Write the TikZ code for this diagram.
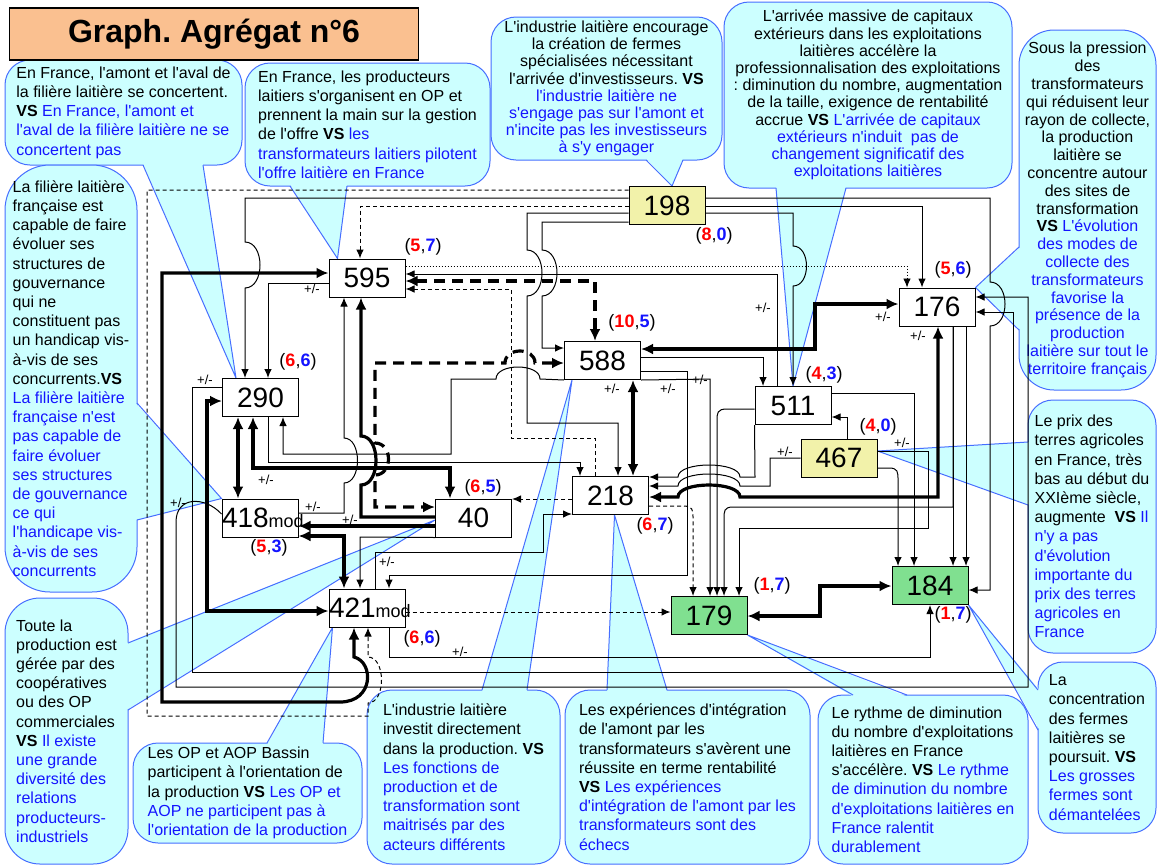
\documentclass[tikz,border=0pt]{standalone}
\usepackage{fontspec}
\setmainfont{Liberation Sans}[Ligatures=TeXOff]
\usetikzlibrary{arrows.meta, backgrounds}
\frenchspacing

\definecolor{bulle}{RGB}{204,255,255}
\definecolor{bord}{RGB}{70,110,255}
\definecolor{jaune}{RGB}{242,242,170}
\definecolor{vert}{RGB}{128,224,144}
\definecolor{saumon}{RGB}{250,192,144}
\definecolor{bleutexte}{RGB}{20,20,255}

\newcommand{\bleu}[1]{\textcolor{bleutexte}{#1}}
\newcommand{\rbpair}[2]{(\textcolor{red}{\textbf{#1}},\textcolor{bleutexte}{\textbf{#2}})}

\begin{document}
\begin{tikzpicture}[x=1pt, y=-1pt,
  box/.style={draw, line width=1pt, fill=white, minimum width=76pt, minimum height=38pt, inner sep=0pt, font=\fontsize{28}{28}\selectfont},
  bulleg/.style={draw=bord, line width=1pt, fill=bulle, rounded corners=25pt, inner sep=0pt, align=left, font=\fontsize{16}{19.2}\selectfont},
  bullec/.style={bulleg, align=center, font=\fontsize{16}{17.2}\selectfont},
  pointe/.style={draw=bord, line width=1pt},
  rb/.style={inner sep=0pt, font=\fontsize{18}{18}\selectfont},
  pm/.style={inner sep=0pt, font=\fontsize{13}{13}\selectfont},
  ln/.style={line width=1pt},
  tk/.style={line width=3.2pt},
  dsh/.style={line width=1pt, dash pattern=on 4pt off 3pt},
  tkd/.style={line width=3.2pt, dash pattern=on 11pt off 7pt},
  pts/.style={line width=0.9pt, dash pattern=on 1.5pt off 1.5pt},
  ar/.style={-{Latex[length=9pt,width=7.5pt]}},
  tar/.style={-{Latex[length=12pt,width=11pt]}},
  tarr/.style={{Latex[length=12pt,width=11pt]}-{Latex[length=12pt,width=11pt]}}]

\useasboundingbox (0,0) rectangle (1158,865);

% titre
\node[draw, line width=1.2pt, fill=saumon, minimum width=409pt, minimum height=52pt, font=\fontsize{32}{32}\selectfont\bfseries] (titre) at (214,34) {Graph. Agrégat n°6};

% variables
\node[box] (n595) at (367,278) {595};
\node[box] (n290) at (260.5,397.5) {290};
\node[box, fill=jaune] (n198) at (667,205.5) {198};
\node[box] (n588) at (602.5,360.5) {588};
\node[box] (n176) at (937,307) {176};
\node[box] (n511) at (793,405.5) {511};
\node[box, fill=jaune] (n467) at (839,458) {467};
\node[box] (n218) at (610.5,495.5) {218};
\node[box, text width=76pt, align=left] (n418) at (260,518) {418{\fontsize{18}{18}\selectfont mod}};
\node[box] (n40) at (473.5,518) {40};
\node[box, text width=76pt, align=left] (n421) at (367,608) {421{\fontsize{18}{18}\selectfont mod}};
\node[box, fill=vert] (n179) at (709,615.5) {179};
\node[box, fill=vert] (n184) at (930,585.5) {184};

% (r,b)
\node[rb] (r595) at (423,247) {\rbpair{5}{7}};
\node[rb] (r290) at (298,362) {\rbpair{6}{6}};
\node[rb] (r588) at (632,323) {\rbpair{10}{5}};
\node[rb] (r198) at (714,236) {\rbpair{8}{0}};
\node[rb] (r176) at (953,270) {\rbpair{5}{6}};
\node[rb] (r511) at (824,375) {\rbpair{4}{3}};
\node[rb] (r467) at (878,427) {\rbpair{4}{0}};
\node[rb] (r218) at (655,526) {\rbpair{6}{7}};
\node[rb] (r179) at (772,586) {\rbpair{1}{7}};
\node[rb] (r184) at (953,615) {\rbpair{1}{7}};
\node[rb] (r40) at (483,488) {\rbpair{6}{5}};
\node[rb] (r418) at (269,548) {\rbpair{5}{3}};
\node[rb] (r421) at (422,639) {\rbpair{6}{6}};

% signes
\node[pm] (p1) at (312,289) {+/-};
\node[pm] (p2) at (205,380) {+/-};
\node[pm] (p3) at (763,308) {+/-};
\node[pm] (p4) at (883,317) {+/-};
\node[pm] (p5) at (918,336) {+/-};
\node[pm] (p6) at (612,389) {+/-};
\node[pm] (p7) at (668,389) {+/-};
\node[pm] (p8) at (700,380) {+/-};
\node[pm] (p9) at (266,480) {+/-};
\node[pm] (p10) at (178,503) {+/-};
\node[pm] (p11) at (313,507) {+/-};
\node[pm] (p12) at (350,520) {+/-};
\node[pm] (p13) at (387,562) {+/-};
\node[pm] (p14) at (460,652) {+/-};
\node[pm] (p15) at (785,452) {+/-};
\node[pm] (p16) at (902,443) {+/-};

% liaisons depuis 198
\draw[ln,ar] (n198.west |- 0,198) -- (245,198) -- (245,242) .. controls (265,242) and (265,288) .. (245,288) -- (n290.north -| 245,0);
\draw[dsh,ar] (n198.west |- 0,206) -- (360,206) -- (n595.north -| 360,0);
\draw[dsh,ar] (n198.west |- 0,190) -- (147,190) -- (147,716) -- (368,716) -- (368,703) .. controls (386,703) and (386,657) .. (368,657) -- (n421.south -| 368,0);
\draw[ln,ar] (n198.west |- 0,213) -- (527,213) -- (527,250) .. controls (547,250) and (547,296) .. (527,296) -- (527,423) -- (618,423) -- (n218.north -| 618,0);
\draw[ln,ar] (n198.west |- 0,222) -- (542,222) -- (542,250) .. controls (562,250) and (562,296) .. (542,296) -- (542,348) -- (n588.west |- 0,348);
\draw[ln,ar] (n198.east |- 0,198) -- (990,198) -- (990,282) .. controls (1010,282) and (1010,326) .. (990,326) -- (990,590) -- (n184.east |- 0,590);
\draw[ln,ar] (n198.east |- 0,206) -- (922,206) -- (n176.north -| 922,0);
\draw[ln,ar] (n198.east |- 0,213) -- (793,213) -- (793,246) .. controls (811,246) and (811,286) .. (793,286) -- (n511.north -| 793,0);

% autour de 595
\draw[pts,ar] (n595.east |- 0,266) -- (907,266) -- (n176.north -| 907,0);
\draw[ln,ar] (n511.north -| 777,0) -- (777,274) -- (n595.east |- 0,274);
\draw[tkd,tarr] (n595.east |- 0,281) -- (595,281) -- (n588.north -| 595,0);
\draw[dsh,ar] (n218.north -| 595,0) -- (595,438) -- (511,438) -- (511,289) -- (n595.east |- 0,289);
\draw[ln,ar] (n595.west |- 0,283) -- (268,283) -- (n290.north -| 268,0);
\draw[tk,tarr] (n421.south -| 354,0) -- (354,657) .. controls (374,662) and (374,702) .. (340,702) -- (162,702) -- (162,273) -- (n595.west |- 0,273);
\draw[tk,tarr] (n290.west |- 0,401) -- (207,401) -- (207,611) -- (n421.west |- 0,611);
\draw[ln,ar] (n418.east |- 0,513) -- (344,513) -- (344,483) .. controls (362,483) and (362,438) .. (344,438) -- (n595.south -| 344,0);
\draw[tk,tar] (n40.west |- 0,517) -- (361,517) -- (361,485) .. controls (381,485) and (381,436) .. (361,436) -- (n595.south -| 361,0);

% autour de 290 et 418
\draw[tk,tarr] (n290.south -| 238,0) -- (n418.north -| 238,0);
\draw[tk,tarr] (n290.south -| 253,0) -- (253,468) -- (450,468) -- (n40.north -| 450,0);
\draw[ln,ar] (n290.south -| 268,0) -- (268,462) -- (580,462) -- (n218.north -| 580,0);
\draw[ln,ar] (n588.south west) -- (540,379) .. controls (540,363) and (496,363) .. (496,379) -- (451,379) -- (451,454) -- (283,454) -- (n290.south -| 283,0);
\draw[tkd,tarr] (n588.west |- 0,363) -- (535,363) .. controls (535,347) and (505,347) .. (505,363) -- (375,363) -- (375,443) .. controls (393,443) and (393,475) .. (375,475) -- (375,507) -- (n40.west |- 0,507);
\draw[ln,ar] (n290.west |- 0,387) -- (192,387) -- (192,672) -- (1013,672) -- (1013,312) -- (n176.east |- 0,312);
\draw[ln,ar] (n418.west |- 0,514) .. controls (205,496) and (176,496) .. (176,522) -- (176,687) -- (1028,687) -- (1028,297) -- (n176.east |- 0,297);
\draw[tk,tar] (n40.west |- 0,526) -- (n418.east |- 0,526);
\draw[tk,tarr] (n418.east |- 0,536) -- (344,536) -- (n421.north -| 344,0);
\draw[ln,ar] (n40.south west) -- (360,537) -- (n421.north -| 360,0);

% autour de 421
\draw[ln,ar] (n421.north -| 375,0) -- (375,552) -- (543,552) -- (543,514) -- (n218.west |- 0,514);
\draw[ln,ar] (n588.east |- 0,371) -- (687,371) -- (687,575) -- (389,575) -- (n421.north -| 389,0);
\draw[ln,ar] (n421.south -| 389,0) -- (389,657) -- (930,657) -- (n184.south -| 930,0);
\draw[dsh,ar] (n421.east |- 0,612) -- (n179.west |- 0,612);

% autour de 218
\draw[dsh,ar] (n218.west |- 0,499) -- (n40.east |- 0,499);
\draw[tk,tarr] (n588.south -| 633,0) -- (n218.north -| 633,0);
\draw[tk,tarr] (n176.south -| 938,0) -- (938,497) -- (740,497) .. controls (740,481) and (678,481) .. (678,497) -- (n218.east |- 0,497);
\draw[ln,ar] (n511.south west) -- (755,477) -- (740,477) .. controls (740,461) and (678,461) .. (678,477) -- (n218.east |- 0,477);
\draw[ln,ar] (n467.west |- 0,458) -- (770,458) -- (770,486) -- (740,486) .. controls (740,470) and (678,470) .. (678,486) -- (n218.east |- 0,486);
\draw[dsh,ar] (n218.east |- 0,506) -- (683,506) .. controls (693,506) and (693,510) .. (693,518) -- (n179.north -| 693,0);

% vers 179, 184, 176, 511
\draw[ln,ar] (n588.south east) -- (710,379) -- (n179.north -| 710,0);
\draw[ln,ar] (n588.east |- 0,357) -- (763,357) -- (n511.north -| 763,0);
\draw[tk,tarr] (n588.east |- 0,349) -- (815,349) -- (815,304) -- (n176.west |- 0,304);
\draw[ln,ar] (n511.west |- 0,409) -- (727,409) .. controls (717,409) and (717,413) .. (717,421) -- (n179.north -| 717,0);
\draw[ln,ar] (n176.south -| 953,0) -- (n184.north -| 953,0);
\draw[ln,ar] (n176.south -| 966,0) -- (n184.north -| 966,0);
\draw[ln,ar] (n176.south -| 953,0) -- (953,507) -- (733,507) .. controls (724,507) and (724,511) .. (724,519) -- (n179.north -| 724,0);
\draw[ln,ar] (n511.east |- 0,393) -- (914,393) -- (n184.north -| 914,0);
\draw[ln,ar] (n467.east |- 0,468) -- (889,468) .. controls (898,468) and (898,472) .. (898,480) -- (n184.north -| 898,0);
\draw[ln,ar] (n467.east |- 0,451) -- (928,451) -- (928,528) -- (739,528) -- (n179.north -| 739,0);
\draw[ln,ar] (n467.north -| 847,0) -- (847,417) -- (n511.east |- 0,417);
\draw[tk,tarr] (n179.east |- 0,616) -- (820,616) -- (820,586) -- (n184.west |- 0,586);

% bulles
\begin{scope}[on background layer]
\node[bulleg, minimum width=237pt, minimum height=105pt] (b1) at (123.5,112.5) {En France, l'amont et l'aval de\\la filière laitière se concertent.\\\textbf{VS} \bleu{En France, l'amont et}\\\bleu{l'aval de la filière laitière ne se}\\\bleu{concertent pas}};
\fill[bulle] (143,163.5) -- ([xshift=14pt]n290.north west) -- (203,163.5) -- cycle;
\draw[pointe] (143,165) -- ([xshift=14pt]n290.north west) -- (203,165);

\node[bulleg, minimum width=245pt, minimum height=123pt] (b2) at (367.5,124.5) {En France, les producteurs\\laitiers s'organisent en OP et\\prennent la main sur la gestion\\de l'offre \textbf{VS} \bleu{les}\\\bleu{transformateurs laitiers pilotent}\\\bleu{l'offre laitière en France}};
\fill[bulle] (290,184.5) -- ([xshift=9pt]n595.north west) -- (347,184.5) -- cycle;
\draw[pointe] (290,186) -- ([xshift=9pt]n595.north west) -- (347,186);

\node[bullec, minimum width=231pt, minimum height=143pt] (b3) at (606.5,88.5) {L'industrie laitière encourage\\la création de fermes\\spécialisées nécessitant\\l'arrivée d'investisseurs. \textbf{VS}\\\bleu{l'industrie laitière ne}\\\bleu{s'engage pas sur l'amont et}\\\bleu{n'incite pas les investisseurs}\\\bleu{à s'y engager}};
\fill[bulle] (646,158.5) -- ([xshift=5pt]n198.north) -- (683,158.5) -- cycle;
\draw[pointe] (646,160) -- ([xshift=5pt]n198.north) -- (683,160);

\node[bullec, minimum width=288pt, minimum height=186pt] (b4) at (868,95) {L'arrivée massive de capitaux\\extérieurs dans les exploitations\\laitières accélère la\\professionnalisation des exploitations\\: diminution du nombre, augmentation\\de la taille, exigence de rentabilité\\accrue \textbf{VS} \bleu{L'arrivée de capitaux}\\\bleu{extérieurs n'induit\ \ pas de}\\\bleu{changement significatif des}\\\bleu{exploitations laitières}};
\fill[bulle] (776,186.5) -- (n511.north) -- (846,186.5) -- cycle;
\draw[pointe] (776,188) -- (n511.north) -- (846,188);

\node[bullec, rounded corners=35pt, minimum width=137pt, minimum height=360pt, font=\fontsize{16}{17.8}\selectfont] (b5) at (1087.5,210) {Sous la pression\\des\\transformateurs\\qui réduisent leur\\rayon de collecte,\\la production\\laitière se\\concentre autour\\des sites de\\transformation\\\textbf{VS} \bleu{L'évolution}\\\bleu{des modes de}\\\bleu{collecte des}\\\bleu{transformateurs}\\\bleu{favorise la}\\\bleu{présence de la}\\\bleu{production}\\\bleu{laitière sur tout le}\\\bleu{territoire français}};
\fill[bulle] (1020.5,247) -- (n176.north east) -- (1020.5,330) -- cycle;
\draw[pointe] (1019,247) -- (n176.north east) -- (1019,330);

\node[bulleg, minimum width=128pt, minimum height=253pt] (b6) at (1092,526.5) {Le prix des\\terres agricoles\\en France, très\\bas au début du\\XXIème siècle,\\augmente\ \ \textbf{VS} \bleu{Il}\\\bleu{n'y a pas}\\\bleu{d'évolution}\\\bleu{importante du}\\\bleu{prix des terres}\\\bleu{agricoles en}\\\bleu{France}};
\fill[bulle] (1029.5,442) -- ([yshift=7pt]n467.east) -- (1029.5,505) -- cycle;
\draw[pointe] (1028,442) -- ([yshift=7pt]n467.east) -- (1028,505);

\node[bulleg, minimum width=118pt, minimum height=171pt] (b7) at (1097,747.5) {La\\concentration\\des fermes\\laitières se\\poursuit. \textbf{VS}\\\bleu{Les grosses}\\\bleu{fermes sont}\\\bleu{démantelées}};
\fill[bulle] (1039.5,690) -- (n184.south east) -- (1039.5,730) -- cycle;
\draw[pointe] (1038,690) -- (n184.south east) -- (1038,730);

\node[bulleg, minimum width=210pt, minimum height=169pt] (b8) at (923,779.5) {Le rythme de diminution\\du nombre d'exploitations\\laitières en France\\s'accélère. \textbf{VS} \bleu{Le rythme}\\\bleu{de diminution du nombre}\\\bleu{d'exploitations laitières en}\\\bleu{France ralentit}\\\bleu{durablement}};
\fill[bulle] (853,696.5) -- (n179.south east) -- (907,696.5) -- cycle;
\draw[pointe] (853,695) -- (n179.south east) -- (907,695);

\node[bulleg, minimum width=245pt, minimum height=174pt] (b9) at (687.5,777) {Les expériences d'intégration\\de l'amont par les\\transformateurs s'avèrent une\\réussite en terme rentabilité\\\textbf{VS} \bleu{Les expériences}\\\bleu{d'intégration de l'amont par les}\\\bleu{transformateurs sont des}\\\bleu{échecs}};
\fill[bulle] (607,691.5) -- ([xshift=4pt]n218.south) -- (667,691.5) -- cycle;
\draw[pointe] (607,690) -- ([xshift=4pt]n218.south) -- (667,690);

\node[bulleg, minimum width=193pt, minimum height=174pt] (b10) at (463.5,777) {L'industrie laitière\\investit directement\\dans la production. \textbf{VS}\\\bleu{Les fonctions de}\\\bleu{production et de}\\\bleu{transformation sont}\\\bleu{maitrisés par des}\\\bleu{acteurs différents}};
\fill[bulle] (482,691.5) -- ([xshift=8pt]n588.south west) -- (527,691.5) -- cycle;
\draw[pointe] (482,690) -- ([xshift=8pt]n588.south west) -- (527,690);

\node[bulleg, minimum width=229pt, minimum height=100pt] (b11) at (247.5,793) {Les OP et AOP Bassin\\participent à l'orientation de\\la production \textbf{VS} \bleu{Les OP et}\\\bleu{AOP ne participent pas à}\\\bleu{l'orientation de la production}};
\fill[bulle] (267,744.5) -- ([xshift=4pt]n421.south west) -- (323,744.5) -- cycle;
\draw[pointe] (267,743) -- ([xshift=4pt]n421.south west) -- (323,743);

\node[bulleg, rounded corners=35pt, minimum width=123pt, minimum height=266pt] (b12) at (66.5,731) {Toute la\\production est\\gérée par des\\coopératives\\ou des OP\\commerciales\\\textbf{VS} \bleu{Il existe}\\\bleu{une grande}\\\bleu{diversité des}\\\bleu{relations}\\\bleu{producteurs-}\\\bleu{industriels}};
\fill[bulle] (126.5,643) -- ([yshift=-2pt]n40.west) -- (126.5,710) -- cycle;
\draw[pointe] (128,643) -- ([yshift=-2pt]n40.west) -- (128,710);

\node[bulleg, rounded corners=45pt, minimum width=132pt, minimum height=427pt] (b13) at (71,378.5) {La filière laitière\\française est\\capable de faire\\évoluer ses\\structures de\\gouvernance\\qui ne\\constituent pas\\un handicap vis-\\à-vis de ses\\concurrents.\textbf{VS}\\\bleu{La filière laitière}\\\bleu{française n'est}\\\bleu{pas capable de}\\\bleu{faire évoluer}\\\bleu{ses structures}\\\bleu{de gouvernance}\\\bleu{ce qui}\\\bleu{l'handicape vis-}\\\bleu{à-vis de ses}\\\bleu{concurrents}};
\fill[bulle] (135.5,403) -- (n418.north west) -- (135.5,520) -- cycle;
\draw[pointe] (137,403) -- (n418.north west) -- (137,520);
\end{scope}
\end{tikzpicture}
\end{document}
